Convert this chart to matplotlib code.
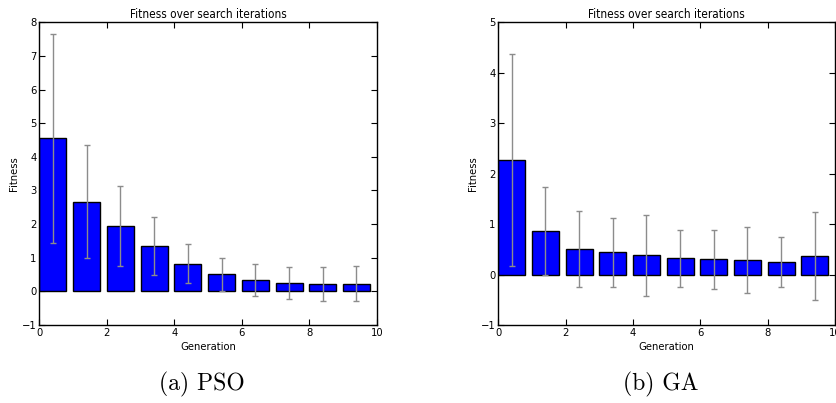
import matplotlib

matplotlib.use("Agg")

import matplotlib.pyplot as plt
import numpy as np

generations = np.arange(10)

pso_mean = [4.55, 2.66, 1.93, 1.34, 0.82, 0.51, 0.34, 0.25, 0.22, 0.22]
pso_std = [3.10, 1.68, 1.19, 0.86, 0.58, 0.49, 0.48, 0.48, 0.50, 0.52]

ga_mean = [2.27, 0.86, 0.51, 0.44, 0.38, 0.32, 0.30, 0.29, 0.25, 0.37]
ga_std = [2.10, 0.87, 0.76, 0.69, 0.80, 0.57, 0.58, 0.65, 0.49, 0.88]

panels = [
    ("(a) PSO", pso_mean, pso_std, (-1, 8)),
    ("(b) GA", ga_mean, ga_std, (-1, 5)),
]
axes_rects = [
    [0.047, 0.1935, 0.4031, 0.7511],
    [0.5953, 0.1935, 0.4023, 0.7511],
]

plt.rcParams["font.stretch"] = "condensed"

fig = plt.figure(figsize=(8.37, 4.03), dpi=100)

for rect, (caption, mean, std, ylim) in zip(axes_rects, panels):
    ax = fig.add_axes(rect)
    ax.bar(generations, mean, width=0.8, align="edge", color="#0000ff",
           edgecolor="black", linewidth=1.0, zorder=2)
    ax.errorbar(generations + 0.4, mean, yerr=std, fmt="none",
                ecolor="#8c8c8c", elinewidth=1.0, capsize=2, capthick=1.0, zorder=3)
    ax.set_xlim(0, 10)
    ax.set_ylim(*ylim)
    ax.set_xticks([0, 2, 4, 6, 8, 10])
    ax.set_yticks(np.arange(ylim[0], ylim[1] + 1))
    ax.tick_params(direction="in", top=True, right=True, labelsize=8, length=4, pad=2)
    ax.set_title("Fitness over search iterations", fontsize=8.5, pad=3)
    ax.set_xlabel("Generation", fontsize=8, labelpad=3)
    ax.set_ylabel("Fitness", fontsize=8, labelpad=2)
    for spine in ax.spines.values():
        spine.set_linewidth(1.0)
    cx = rect[0] + rect[2] / 2 - 0.007
    fig.text(cx, 0.045, caption, ha="center", va="center", fontsize=17, family="cmr10")

fig.savefig("out.png", dpi=100)
